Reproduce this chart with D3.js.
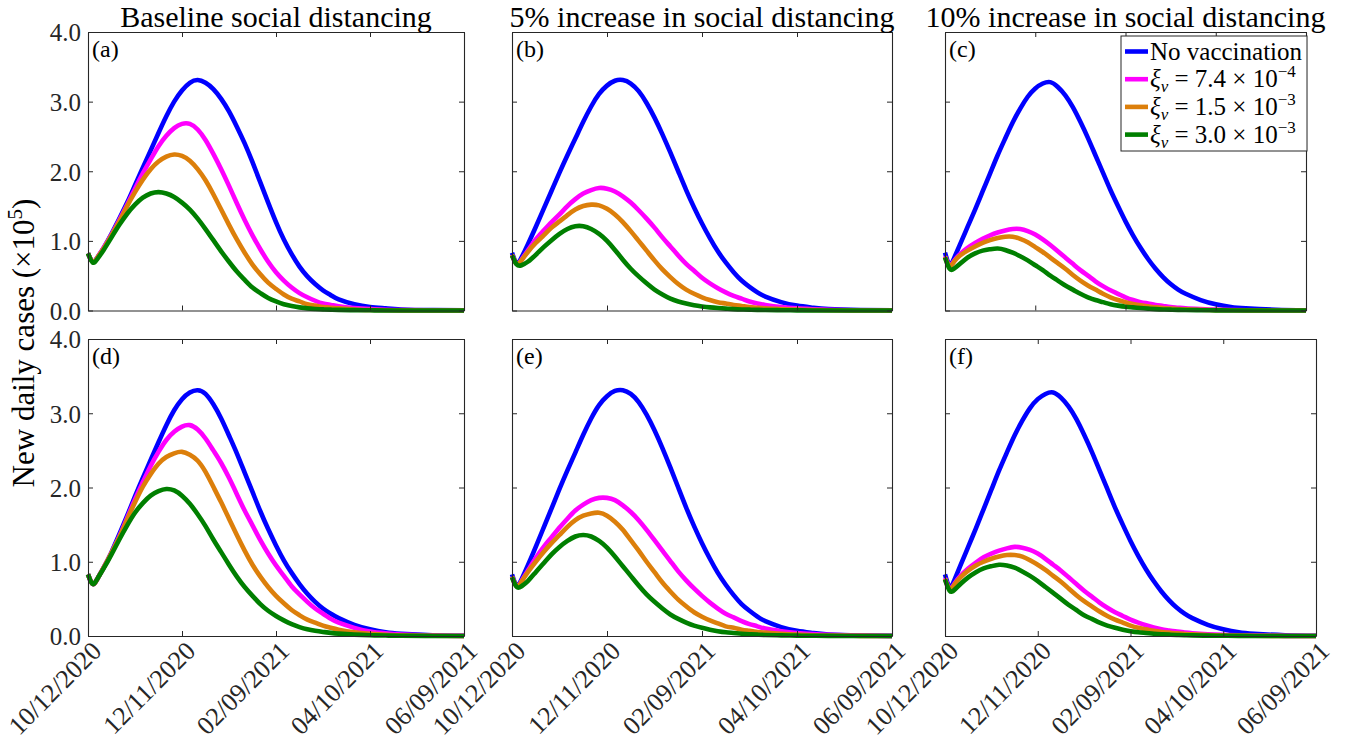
<!DOCTYPE html>
<html>
<head>
<meta charset="utf-8">
<script src="https://cdn.jsdelivr.net/npm/d3@7"></script>
<style>
  body { margin: 0; background: #fff; }
  svg text { font-family: "Liberation Serif", "Times New Roman", serif; }
</style>
</head>
<body>
<svg id="chart" width="1349" height="749"></svg>
<script>
// ---- data (new daily cases, in units of 10^5) ----
const startDate = "2020-10-12";
const dayOffsets = [0,3,6,10,15,20,25,30,35,40,45,50,55,60,65,70,75,80,85,90,95,100,105,110,115,120,125,130,135,140,145,150,155,160,170,180,190,200,220,240];
const tickDates = ["2020-10-12", "2020-12-11", "2021-02-09", "2021-04-10", "2021-06-09"];
const yTickValues = [0, 1, 2, 3, 4];
const columnTitles = ["Baseline social distancing", "5% increase in social distancing", "10% increase in social distancing"];
const panelLetters = ["(a)", "(b)", "(c)", "(d)", "(e)", "(f)"];
const xiCoefficients = [null, "7.4", "1.5", "3.0"];
const xiExponents = [null, "\u22124", "\u22123", "\u22123"];
const seriesColors = ["#0000ff", "#ff00ff", "#dc7f0b", "#007f00"];

// (a) baseline social distancing
const noVacA = [0.82,0.70,0.76,0.90,1.10,1.32,1.55,1.80,2.05,2.30,2.55,2.79,3.00,3.16,3.27,3.31,3.27,3.18,3.04,2.86,2.64,2.40,2.13,1.84,1.55,1.27,1.02,0.81,0.63,0.49,0.38,0.29,0.22,0.16,0.09,0.05,0.03,0.015,0.005,0.002];
const xi74A  = [0.82,0.70,0.76,0.90,1.09,1.30,1.52,1.75,1.97,2.17,2.36,2.51,2.62,2.68,2.68,2.60,2.45,2.25,2.03,1.79,1.54,1.30,1.08,0.88,0.70,0.55,0.43,0.33,0.25,0.19,0.14,0.10,0.08,0.06,0.035,0.02,0.01,0.006,0.002,0];
const xi15A  = [0.82,0.70,0.76,0.89,1.08,1.28,1.50,1.70,1.88,2.03,2.14,2.21,2.24,2.22,2.15,2.03,1.87,1.67,1.45,1.23,1.02,0.83,0.66,0.52,0.40,0.31,0.23,0.17,0.13,0.09,0.07,0.05,0.04,0.03,0.015,0.008,0.004,0.002,0,0];
const xi30A  = [0.82,0.69,0.74,0.87,1.05,1.23,1.39,1.52,1.62,1.68,1.70,1.68,1.63,1.55,1.45,1.32,1.17,1.01,0.85,0.70,0.56,0.44,0.33,0.25,0.18,0.13,0.09,0.065,0.045,0.03,0.022,0.016,0.012,0.009,0.005,0.003,0.001,0,0,0];

// (b) 5% increase in social distancing
const noVacB = [0.83,0.68,0.76,0.95,1.20,1.46,1.72,1.98,2.23,2.47,2.71,2.93,3.11,3.23,3.30,3.31,3.26,3.15,2.98,2.77,2.53,2.27,2.00,1.73,1.48,1.25,1.04,0.85,0.69,0.55,0.43,0.34,0.26,0.20,0.12,0.07,0.04,0.02,0.007,0.002];
const xi74B  = [0.80,0.67,0.73,0.86,1.02,1.15,1.27,1.38,1.50,1.60,1.68,1.73,1.76,1.75,1.71,1.64,1.55,1.44,1.32,1.19,1.05,0.92,0.79,0.67,0.57,0.47,0.39,0.32,0.26,0.21,0.17,0.13,0.10,0.08,0.05,0.03,0.018,0.01,0.003,0];
const xi15B  = [0.80,0.67,0.72,0.84,0.97,1.08,1.19,1.28,1.37,1.45,1.50,1.52,1.51,1.46,1.38,1.27,1.14,1.00,0.86,0.72,0.59,0.48,0.38,0.30,0.24,0.19,0.15,0.12,0.10,0.08,0.065,0.05,0.04,0.03,0.02,0.012,0.007,0.004,0.001,0];
const xi30B  = [0.79,0.66,0.65,0.70,0.80,0.91,1.01,1.10,1.17,1.21,1.21,1.17,1.10,1.00,0.87,0.73,0.60,0.49,0.39,0.30,0.23,0.17,0.13,0.10,0.075,0.058,0.045,0.035,0.027,0.02,0.015,0.012,0.009,0.007,0.004,0.002,0.001,0,0,0];

// (c) 10% increase in social distancing
const noVacC = [0.83,0.66,0.75,0.95,1.20,1.45,1.71,1.97,2.23,2.47,2.70,2.90,3.07,3.19,3.26,3.28,3.21,3.09,2.92,2.71,2.48,2.23,1.98,1.73,1.50,1.28,1.08,0.90,0.74,0.60,0.48,0.38,0.30,0.24,0.15,0.09,0.05,0.03,0.01,0.003];
const xi74C  = [0.78,0.65,0.71,0.81,0.90,0.97,1.03,1.08,1.12,1.15,1.17,1.17,1.14,1.09,1.02,0.94,0.85,0.76,0.67,0.58,0.50,0.42,0.35,0.29,0.24,0.19,0.15,0.12,0.10,0.08,0.065,0.05,0.04,0.03,0.02,0.012,0.007,0.004,0.001,0];
const xi15C  = [0.77,0.64,0.70,0.79,0.86,0.92,0.97,1.01,1.04,1.06,1.06,1.03,0.98,0.91,0.84,0.76,0.68,0.60,0.51,0.43,0.36,0.30,0.24,0.19,0.15,0.12,0.095,0.075,0.06,0.045,0.035,0.028,0.022,0.017,0.01,0.006,0.003,0.002,0,0];
const xi30C  = [0.76,0.60,0.60,0.67,0.76,0.82,0.86,0.88,0.89,0.87,0.83,0.78,0.72,0.65,0.58,0.50,0.43,0.36,0.30,0.24,0.19,0.15,0.12,0.09,0.07,0.055,0.045,0.035,0.027,0.02,0.015,0.012,0.009,0.007,0.004,0.002,0.001,0,0,0];

// (d) baseline social distancing, second scenario
const noVacD = [0.83,0.70,0.77,0.92,1.13,1.37,1.62,1.88,2.13,2.37,2.61,2.84,3.04,3.19,3.28,3.31,3.26,3.12,2.93,2.70,2.46,2.20,1.94,1.68,1.44,1.22,1.02,0.85,0.70,0.57,0.46,0.37,0.30,0.24,0.15,0.09,0.05,0.03,0.01,0.003];
const xi74D  = [0.83,0.70,0.77,0.92,1.12,1.34,1.59,1.84,2.07,2.29,2.48,2.64,2.75,2.82,2.84,2.78,2.66,2.50,2.33,2.13,1.91,1.69,1.49,1.29,1.11,0.95,0.81,0.67,0.56,0.46,0.37,0.30,0.23,0.18,0.11,0.06,0.035,0.02,0.006,0.002];
const xi15D  = [0.83,0.70,0.77,0.92,1.12,1.33,1.57,1.80,2.01,2.18,2.32,2.41,2.46,2.48,2.44,2.36,2.21,2.01,1.80,1.58,1.36,1.15,0.96,0.80,0.66,0.54,0.44,0.35,0.28,0.22,0.18,0.14,0.11,0.085,0.05,0.03,0.017,0.01,0.003,0];
const xi30D  = [0.83,0.70,0.77,0.91,1.10,1.30,1.49,1.66,1.79,1.89,1.95,1.98,1.96,1.89,1.78,1.64,1.48,1.30,1.13,0.96,0.80,0.66,0.54,0.43,0.34,0.27,0.21,0.16,0.12,0.09,0.07,0.055,0.042,0.032,0.018,0.01,0.006,0.003,0.001,0];

// (e) 5% increase in social distancing, second scenario
const noVacE = [0.83,0.68,0.76,0.95,1.20,1.46,1.72,1.98,2.23,2.47,2.71,2.93,3.11,3.23,3.30,3.31,3.26,3.15,2.98,2.77,2.53,2.27,2.00,1.73,1.48,1.25,1.04,0.85,0.69,0.55,0.43,0.34,0.26,0.20,0.12,0.07,0.04,0.02,0.007,0.002];
const xi74E  = [0.80,0.67,0.74,0.88,1.05,1.20,1.33,1.46,1.58,1.69,1.77,1.83,1.86,1.86,1.83,1.76,1.67,1.56,1.43,1.29,1.15,1.01,0.87,0.75,0.64,0.54,0.45,0.37,0.30,0.25,0.20,0.16,0.13,0.10,0.065,0.04,0.025,0.015,0.005,0];
const xi15E  = [0.80,0.67,0.73,0.86,1.00,1.13,1.25,1.36,1.47,1.56,1.62,1.65,1.66,1.62,1.54,1.43,1.29,1.15,1.00,0.86,0.72,0.60,0.49,0.40,0.32,0.26,0.21,0.17,0.13,0.11,0.085,0.07,0.055,0.045,0.03,0.018,0.01,0.006,0.002,0];
const xi30E  = [0.79,0.66,0.67,0.74,0.86,0.98,1.10,1.20,1.28,1.34,1.36,1.34,1.28,1.19,1.07,0.94,0.81,0.68,0.56,0.46,0.37,0.29,0.23,0.18,0.14,0.11,0.085,0.065,0.05,0.04,0.03,0.023,0.018,0.014,0.008,0.005,0.003,0.002,0,0];

// (f) 10% increase in social distancing, second scenario
const noVacF = [0.83,0.66,0.75,0.95,1.20,1.45,1.71,1.97,2.23,2.47,2.70,2.90,3.07,3.19,3.26,3.28,3.21,3.09,2.92,2.71,2.48,2.23,1.98,1.73,1.50,1.28,1.08,0.90,0.74,0.60,0.48,0.38,0.30,0.24,0.15,0.09,0.05,0.03,0.01,0.003];
const xi74F  = [0.78,0.64,0.70,0.81,0.91,0.99,1.06,1.11,1.15,1.18,1.20,1.19,1.16,1.11,1.04,0.96,0.88,0.79,0.70,0.61,0.53,0.45,0.38,0.32,0.27,0.22,0.18,0.145,0.115,0.09,0.075,0.06,0.048,0.038,0.024,0.015,0.009,0.005,0.002,0];
const xi15F  = [0.77,0.63,0.69,0.79,0.88,0.95,1.00,1.04,1.07,1.09,1.09,1.07,1.02,0.96,0.89,0.81,0.73,0.64,0.55,0.47,0.40,0.33,0.27,0.22,0.18,0.14,0.11,0.09,0.07,0.055,0.045,0.035,0.028,0.022,0.013,0.008,0.005,0.003,0.001,0];
const xi30F  = [0.76,0.61,0.62,0.70,0.79,0.86,0.91,0.94,0.96,0.95,0.92,0.87,0.81,0.74,0.66,0.58,0.50,0.42,0.35,0.28,0.23,0.18,0.14,0.11,0.085,0.065,0.05,0.04,0.03,0.023,0.018,0.014,0.011,0.008,0.005,0.003,0.002,0.001,0,0];

const panelSeries = [
  [noVacA, xi74A, xi15A, xi30A],
  [noVacB, xi74B, xi15B, xi30B],
  [noVacC, xi74C, xi15C, xi30C],
  [noVacD, xi74D, xi15D, xi30D],
  [noVacE, xi74E, xi15E, xi30E],
  [noVacF, xi74F, xi15F, xi30F]
];

// ---- layout ----
const rowBounds = [{ top: 32, bottom: 310.5 }, { top: 339, bottom: 636 }];
const colBounds = [
  [{ left: 88, right: 464 }, { left: 88, right: 464 }],
  [{ left: 512, right: 892 }, { left: 512, right: 892 }],
  [{ left: 945, right: 1306 }, { left: 945, right: 1316 }]
];
const axisColor = "#262626";

const svg = d3.select("#chart");
svg.append("rect").attr("width", 1349).attr("height", 749).attr("fill", "#fff");

const parseDate = d3.utcParse("%Y-%m-%d");
const fmtDate = d3.utcFormat("%m/%d/%Y");
const t0 = parseDate(startDate);
const dayToDate = d => d3.utcDay.offset(t0, d);
const ticks = tickDates.map(parseDate);

const line = d3.line().curve(d3.curveNatural);

panelSeries.forEach((series, i) => {
  const row = Math.floor(i / 3), col = i % 3;
  const rb = rowBounds[row], cb = colBounds[col][row];
  const x = d3.scaleUtc().domain([t0, dayToDate(240)]).range([cb.left, cb.right]);
  const y = d3.scaleLinear().domain([0, 4]).range([rb.bottom, rb.top]);
  const g = svg.append("g");

  // curves: no vaccination first, strongest vaccination rate on top
  series.forEach((vals, s) => {
    g.append("path")
      .attr("d", line(vals.map((v, k) => [x(dayToDate(dayOffsets[k])), y(v)])))
      .attr("fill", "none")
      .attr("stroke", seriesColors[s])
      .attr("stroke-width", 4.6)
      .attr("stroke-linejoin", "round");
  });

  // axes box with inward ticks on all four sides
  const bottomAxis = d3.axisBottom(x).tickValues(ticks).tickSizeInner(-5).tickSizeOuter(0)
    .tickFormat(row === 1 ? fmtDate : "");
  const topAxis = d3.axisTop(x).tickValues(ticks).tickSizeInner(-5).tickSizeOuter(0).tickFormat("");
  const leftAxis = d3.axisLeft(y).tickValues(yTickValues).tickSizeInner(-5).tickSizeOuter(0)
    .tickFormat(col === 0 ? d3.format(".1f") : "");
  const rightAxis = d3.axisRight(y).tickValues(yTickValues).tickSizeInner(-5).tickSizeOuter(0).tickFormat("");

  const gb = g.append("g").attr("transform", `translate(0,${rb.bottom})`).call(bottomAxis);
  g.append("g").attr("transform", `translate(0,${rb.top})`).call(topAxis);
  const gl = g.append("g").attr("transform", `translate(${cb.left},0)`).call(leftAxis);
  g.append("g").attr("transform", `translate(${cb.right},0)`).call(rightAxis);

  g.selectAll(".domain").attr("stroke", axisColor).attr("stroke-width", 1.1);
  g.selectAll(".tick line").attr("stroke", axisColor).attr("stroke-width", 1);

  gl.selectAll(".tick text")
    .attr("font-size", 25).attr("fill", axisColor).attr("x", -7).attr("dy", "0.35em")
    .style("font-family", "'Liberation Serif', serif");

  if (row === 1) {
    gb.selectAll(".tick text")
      .attr("font-size", 26).attr("fill", axisColor)
      .attr("text-anchor", "end").attr("x", 0).attr("y", 0).attr("dy", "0.35em")
      .attr("transform", "translate(8,10) rotate(-45)")
      .style("font-family", "'Liberation Serif', serif");
  }

  // panel letter
  g.append("text").attr("x", cb.left + 4).attr("y", rb.top + 25)
    .attr("font-size", 24).attr("fill", "#000").text(panelLetters[i]);

  // column title
  if (row === 0) {
    svg.append("text").attr("x", (cb.left + cb.right) / 2).attr("y", 27)
      .attr("text-anchor", "middle").attr("font-size", 30).attr("fill", "#000")
      .text(columnTitles[col]);
  }
});

// y-axis label
const yl = svg.append("text")
  .attr("transform", "translate(34,343) rotate(-90)")
  .attr("text-anchor", "middle").attr("font-size", 31).attr("fill", "#000");
yl.append("tspan").text("New daily cases (\u00d710");
yl.append("tspan").attr("font-size", 21).attr("dy", -12).text("5");
yl.append("tspan").attr("dy", 12).text(")");

// legend
const lg = svg.append("g");
lg.append("rect").attr("x", 1121).attr("y", 36).attr("width", 186).attr("height", 115)
  .attr("fill", "#fff").attr("stroke", axisColor).attr("stroke-width", 1);
seriesColors.forEach((c, s) => {
  const cy = 51.5 + s * 27.7;
  lg.append("line").attr("x1", 1125).attr("x2", 1148).attr("y1", cy).attr("y2", cy)
    .attr("stroke", c).attr("stroke-width", 4.6);
  const t = lg.append("text").attr("x", 1150).attr("y", cy + 8).attr("font-size", 25).attr("fill", "#000");
  if (xiCoefficients[s] === null) {
    t.text("No vaccination");
  } else {
    t.append("tspan").attr("font-style", "italic").text("\u03be");
    t.append("tspan").attr("font-style", "italic").attr("font-size", 17).attr("dy", 5).text("v");
    t.append("tspan").attr("dy", -5).text(" = " + xiCoefficients[s] + " \u00d7 10");
    t.append("tspan").attr("font-size", 17).attr("dy", -10).text(xiExponents[s]);
  }
});
</script>
</body>
</html>
